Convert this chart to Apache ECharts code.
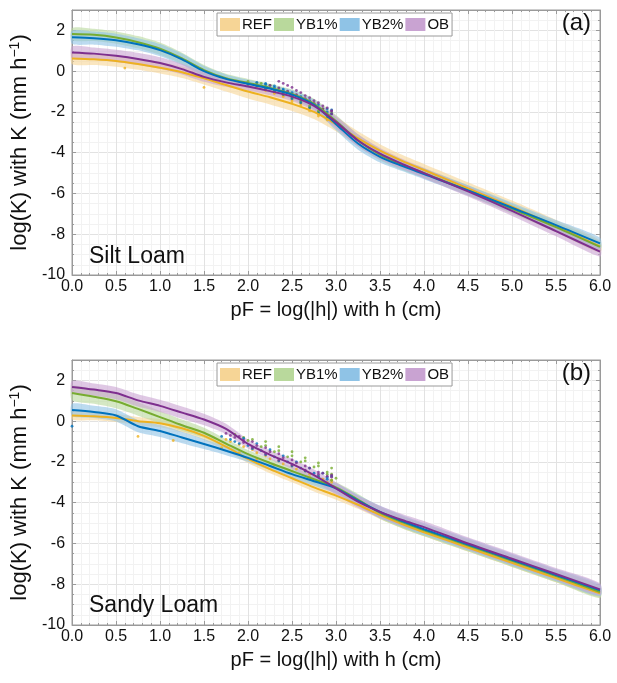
<!DOCTYPE html>
<html>
<head>
<meta charset="utf-8">
<script src="https://cdn.jsdelivr.net/npm/echarts@6/dist/echarts.min.js"></script>
<style>
  html, body { margin: 0; padding: 0; background: #fff; }
  #chart { width: 617px; height: 683px; }
</style>
</head>
<body>
<div id="chart"></div>
<script>
// pF grid shared by every curve
var pF = [0, 0.25, 0.5, 0.75, 1, 1.25, 1.5, 1.75, 2, 2.25, 2.5, 2.75, 3, 3.25, 3.5, 3.75, 4, 4.5, 5, 5.5, 6];
var names = ['REF', 'YB1%', 'YB2%', 'OB'];
var lineColors = ['#EDB120', '#77AC30', '#0072BD', '#7E2F8E'];
var bandColors = ['#f6d596', '#b9d99c', '#8fc3e6', '#c9a3d2'];

// (a) Silt Loam - mean log(K)
var siltREF = [0.62, 0.58, 0.5, 0.35, 0.17, -0.05, -0.35, -0.68, -1.0, -1.28, -1.6, -2.0, -2.6, -3.3, -3.9, -4.4, -4.85, -5.75, -6.65, -7.6, -8.6];
var siltYB1 = [1.82, 1.78, 1.65, 1.42, 1.1, 0.62, 0.05, -0.35, -0.58, -0.82, -1.12, -1.6, -2.45, -3.4, -4.1, -4.6, -5.0, -5.85, -6.75, -7.65, -8.62];
var siltYB2 = [1.66, 1.62, 1.52, 1.32, 1.03, 0.58, 0.0, -0.38, -0.62, -0.85, -1.15, -1.65, -2.6, -3.55, -4.2, -4.65, -5.05, -5.85, -6.7, -7.55, -8.45];
var siltOB  = [0.92, 0.86, 0.75, 0.6, 0.4, 0.1, -0.28, -0.55, -0.75, -0.98, -1.25, -1.7, -2.5, -3.4, -4.05, -4.55, -5.0, -5.9, -6.85, -7.85, -8.85];
// (a) half widths of the uncertainty bands
var siltREFw = [0.28, 0.28, 0.28, 0.28, 0.28, 0.28, 0.3, 0.32, 0.34, 0.35, 0.35, 0.35, 0.35, 0.35, 0.32, 0.3, 0.3, 0.3, 0.3, 0.3, 0.3];
var siltYB1w = [0.3, 0.3, 0.3, 0.3, 0.3, 0.28, 0.25, 0.22, 0.2, 0.2, 0.22, 0.25, 0.3, 0.3, 0.28, 0.25, 0.25, 0.25, 0.25, 0.25, 0.25];
var siltYB2w = [0.32, 0.32, 0.32, 0.3, 0.3, 0.28, 0.25, 0.22, 0.2, 0.2, 0.22, 0.25, 0.3, 0.3, 0.28, 0.25, 0.25, 0.25, 0.25, 0.25, 0.28];
var siltOBw  = [0.3, 0.3, 0.3, 0.3, 0.28, 0.26, 0.24, 0.22, 0.2, 0.2, 0.22, 0.25, 0.3, 0.3, 0.28, 0.25, 0.25, 0.25, 0.25, 0.25, 0.25];

// (b) Sandy Loam - mean log(K)
var sandREF = [0.28, 0.24, 0.16, 0.0, -0.1, -0.35, -0.72, -1.25, -1.85, -2.35, -2.8, -3.25, -3.65, -4.1, -4.6, -5.05, -5.45, -6.2, -6.95, -7.7, -8.45];
var sandYB1 = [1.38, 1.2, 0.98, 0.6, 0.2, -0.2, -0.57, -1.1, -1.62, -2.05, -2.45, -2.85, -3.25, -3.85, -4.5, -4.95, -5.35, -6.1, -6.85, -7.6, -8.38];
var sandYB2 = [0.55, 0.45, 0.28, -0.25, -0.48, -0.8, -1.12, -1.45, -1.8, -2.2, -2.6, -2.95, -3.3, -3.9, -4.45, -4.9, -5.3, -6.05, -6.8, -7.55, -8.3];
var sandOB  = [1.68, 1.55, 1.38, 1.02, 0.75, 0.42, 0.08, -0.38, -1.12, -1.65, -2.1, -2.65, -3.3, -3.95, -4.45, -4.85, -5.2, -6.0, -6.75, -7.5, -8.25];
var sandREFw = [0.2, 0.2, 0.2, 0.2, 0.2, 0.2, 0.2, 0.2, 0.2, 0.2, 0.2, 0.2, 0.2, 0.2, 0.2, 0.2, 0.2, 0.2, 0.2, 0.2, 0.2];
var sandYB1w = [0.35, 0.35, 0.35, 0.33, 0.3, 0.28, 0.25, 0.22, 0.2, 0.2, 0.2, 0.22, 0.25, 0.28, 0.3, 0.3, 0.3, 0.3, 0.3, 0.3, 0.3];
var sandYB2w = [0.3, 0.3, 0.3, 0.3, 0.3, 0.28, 0.25, 0.22, 0.2, 0.2, 0.2, 0.22, 0.25, 0.28, 0.3, 0.3, 0.3, 0.3, 0.3, 0.3, 0.3];
var sandOBw  = [0.3, 0.3, 0.3, 0.3, 0.3, 0.3, 0.28, 0.25, 0.22, 0.22, 0.25, 0.28, 0.3, 0.3, 0.3, 0.3, 0.3, 0.3, 0.3, 0.3, 0.3];

// measured points (dotted traces), per model
var obsSilt = [
  [[0.6, 0.15], [1.5, -0.8], [2.1, -0.75], [2.2, -0.85], [2.3, -1.0], [2.4, -1.15], [2.5, -1.35], [2.6, -1.55], [2.7, -1.8], [2.8, -2.05], [2.9, -2.3],
   [2.2, -0.9], [2.3, -1.05], [2.4, -1.2], [2.5, -1.4], [2.6, -1.6], [2.7, -1.85], [2.8, -2.1], [2.9, -2.35], [2.95, -2.45],
   [2.0, -0.7], [2.1, -0.8], [2.2, -0.95], [2.3, -1.1], [2.4, -1.25], [2.5, -1.5], [2.6, -1.7], [2.7, -1.95], [2.8, -2.2], [2.9, -2.4]],
  [[2.0, -0.5], [2.1, -0.6], [2.2, -0.75], [2.3, -0.9], [2.4, -1.05], [2.5, -1.25], [2.6, -1.45], [2.7, -1.7], [2.8, -1.95], [2.9, -2.2],
   [2.1, -0.7], [2.2, -0.8], [2.3, -0.95], [2.4, -1.1], [2.5, -1.3], [2.6, -1.5], [2.7, -1.75], [2.8, -2.0], [2.9, -2.25], [2.95, -2.3],
   [2.15, -0.6], [2.25, -0.7], [2.35, -0.85], [2.45, -1.0], [2.55, -1.2], [2.65, -1.4], [2.75, -1.6], [2.85, -1.85], [2.95, -2.05]],
  [[2.1, -0.55], [2.2, -0.65], [2.3, -0.8], [2.4, -0.95], [2.5, -1.15], [2.6, -1.35], [2.7, -1.55], [2.8, -1.8], [2.9, -2.0], [2.95, -2.1],
   [2.2, -0.6], [2.3, -0.72], [2.4, -0.88], [2.5, -1.05], [2.6, -1.25], [2.7, -1.45], [2.8, -1.65], [2.9, -1.85], [2.95, -1.9],
   [2.0, -0.65], [2.1, -0.72], [2.2, -0.85], [2.3, -1.0], [2.4, -1.15], [2.5, -1.35], [2.6, -1.55], [2.7, -1.8], [2.8, -2.05], [2.9, -2.3]],
  [[2.35, -0.5], [2.45, -0.7], [2.55, -0.95], [2.65, -1.2], [2.75, -1.45], [2.85, -1.7], [2.95, -1.95],
   [2.25, -0.7], [2.35, -0.82], [2.45, -0.98], [2.55, -1.15], [2.65, -1.35], [2.75, -1.6], [2.85, -1.85], [2.95, -2.1],
   [2.4, -0.6], [2.5, -0.8], [2.6, -1.05], [2.7, -1.3], [2.8, -1.55], [2.9, -1.8], [2.95, -1.95]]
];
var obsSand = [
  [[0.75, -0.75], [1.15, -0.95], [1.7, -1.3], [1.9, -1.55], [2.1, -1.85], [2.3, -2.15], [2.5, -2.45], [2.7, -2.75], [2.9, -3.0],
   [1.8, -1.0], [1.95, -1.25], [2.1, -1.55], [2.25, -1.85], [2.4, -2.1], [2.55, -2.35], [2.7, -2.6], [2.85, -2.85], [2.95, -3.0],
   [1.75, -0.9], [1.9, -1.15], [2.05, -1.4], [2.2, -1.7], [2.35, -1.95], [2.5, -2.2], [2.65, -2.45], [2.8, -2.7], [2.95, -2.9]],
  [[1.95, -0.8], [2.05, -0.9], [2.2, -1.2], [2.35, -1.45], [2.5, -1.7], [2.65, -1.95], [2.8, -2.2], [2.9, -2.6], [2.95, -2.9], [3.0, -2.8],
   [1.85, -0.65], [2.0, -0.95], [2.15, -1.25], [2.3, -1.5], [2.45, -1.75], [2.6, -2.0], [2.75, -2.25], [2.9, -2.5], [2.95, -2.6],
   [2.2, -1.0], [2.35, -1.25], [2.5, -1.5], [2.65, -1.8], [2.8, -2.05], [2.95, -2.3]],
  [[0.0, -0.25], [1.8, -0.9], [1.9, -1.1], [2.05, -1.35], [2.2, -1.65], [2.35, -1.95], [2.5, -2.2], [2.65, -2.45], [2.8, -2.7], [2.9, -2.85],
   [1.7, -0.75], [1.85, -1.0], [2.0, -1.2], [2.15, -1.45], [2.3, -1.75], [2.45, -2.0], [2.6, -2.3], [2.75, -2.55], [2.9, -2.75],
   [1.95, -0.85], [2.1, -1.1], [2.25, -1.4], [2.4, -1.7], [2.55, -2.0], [2.7, -2.3], [2.85, -2.55], [2.95, -2.7]],
  [[1.75, -0.6], [1.85, -0.8], [1.95, -1.05], [2.05, -1.3], [2.2, -1.6], [2.35, -1.9], [2.5, -2.15], [2.65, -2.4], [2.8, -2.6], [2.9, -2.7],
   [1.9, -0.75], [2.05, -1.0], [2.2, -1.3], [2.35, -1.6], [2.5, -1.9], [2.65, -2.2], [2.8, -2.5], [2.95, -2.75],
   [1.8, -0.7], [1.95, -0.95], [2.1, -1.2], [2.25, -1.5], [2.4, -1.8], [2.55, -2.05], [2.7, -2.3], [2.85, -2.55], [2.95, -2.65]]
];

var FONT = 'Liberation Sans';

function pairs(ys) {
  var out = [];
  for (var i = 0; i < pF.length; i++) out.push([pF[i], ys[i]]);
  return out;
}

// uncertainty band as one smoothed polygon through the axis scales
function bandSeries(axisIdx, center, half, k) {
  var rows = [];
  for (var i = 0; i < pF.length; i++) rows.push([pF[i], center[i] - half[i], center[i] + half[i]]);
  return {
    type: 'custom', name: names[k], xAxisIndex: axisIdx, yAxisIndex: axisIdx,
    data: rows, encode: { x: 0, y: [1, 2] }, silent: true, z: 1,
    renderItem: function (params, api) {
      if (params.dataIndex !== 0) return null;
      var upper = [], lower = [];
      for (var j = 0; j < rows.length; j++) {
        upper.push(api.coord([rows[j][0], rows[j][2]]));
        lower.push(api.coord([rows[j][0], rows[j][1]]));
      }
      return {
        type: 'polygon',
        shape: { points: upper.concat(lower.reverse()), smooth: 0.25 },
        style: { fill: bandColors[k], opacity: 0.6 }
      };
    }
  };
}

function panelSeries(axisIdx, centers, halves, obs) {
  var bands = [], lines = [], dots = [];
  for (var k = 0; k < names.length; k++) {
    bands.push(bandSeries(axisIdx, centers[k], halves[k], k));
    dots.push({
      name: names[k], type: 'scatter', xAxisIndex: axisIdx, yAxisIndex: axisIdx,
      data: obs[k], symbolSize: 2.8, itemStyle: { color: lineColors[k], opacity: 0.8 }, z: 2
    });
    lines.push({
      name: names[k], type: 'line', xAxisIndex: axisIdx, yAxisIndex: axisIdx,
      data: pairs(centers[k]), smooth: 0.3, symbol: 'none',
      lineStyle: { color: lineColors[k], width: 2 }, z: 3
    });
  }
  return bands.concat(dots, lines);
}

function xAxes(gridIdx) {
  var base = {
    type: 'value', gridIndex: gridIdx, min: 0, max: 6, interval: 0.5,
    axisLine: { show: true, onZero: false, lineStyle: { color: '#9a9a9a' } },
    axisTick: { show: true, inside: true, length: 4, lineStyle: { color: '#9a9a9a' } },
    minorTick: { show: true, splitNumber: 5, length: 2, lineStyle: { color: '#9a9a9a' } },
    splitLine: { show: true, lineStyle: { color: '#e2e2e2' } },
    minorSplitLine: { show: true, lineStyle: { color: '#f2f2f2' } }
  };
  var bottom = Object.assign({}, base, {
    position: 'bottom',
    axisLabel: { color: '#111', fontSize: 16, fontFamily: FONT, margin: 4,
      formatter: function (v) { return v.toFixed(1); } },
    name: 'pF = log(|h|) with h (cm)', nameLocation: 'middle', nameGap: 25,
    nameTextStyle: { color: '#111', fontSize: 20, fontFamily: FONT, verticalAlign: 'top' }
  });
  var top = Object.assign({}, base, {
    position: 'top', axisLabel: { show: false },
    splitLine: { show: false }, minorSplitLine: { show: false }
  });
  return [bottom, top];
}

function yAxes(gridIdx) {
  var base = {
    type: 'value', gridIndex: gridIdx, min: -10, max: 3, interval: 2,
    axisLine: { show: true, onZero: false, lineStyle: { color: '#9a9a9a' } },
    axisTick: { show: true, inside: true, length: 4, lineStyle: { color: '#9a9a9a' } },
    minorTick: { show: true, splitNumber: 4, length: 2, lineStyle: { color: '#9a9a9a' } },
    splitLine: { show: true, lineStyle: { color: '#e2e2e2' } },
    minorSplitLine: { show: true, lineStyle: { color: '#f2f2f2' } }
  };
  var left = Object.assign({}, base, {
    position: 'left',
    axisLabel: { color: '#111', fontSize: 16, fontFamily: FONT, margin: 7, showMaxLabel: false },
    name: 'log(K) with K (mm h{sup|\u22121})', nameLocation: 'middle', nameGap: 25,
    nameTextStyle: { color: '#111', fontSize: 22, fontFamily: FONT,
      rich: { sup: { fontSize: 14, fontFamily: FONT, color: '#111', verticalAlign: 'top', padding: [0, 0, 10, 0] } } }
  });
  var right = Object.assign({}, base, {
    position: 'right', axisLabel: { show: false },
    splitLine: { show: false }, minorSplitLine: { show: false }
  });
  return [left, right];
}

function legendFor(top) {
  return {
    top: top, left: 217, orient: 'horizontal', selectedMode: false,
    icon: 'rect', itemWidth: 20, itemHeight: 13, itemGap: 2,
    padding: [4, 3, 4, 3], borderColor: '#9a9a9a', borderWidth: 1,
    backgroundColor: '#fff', z: 20,
    textStyle: { color: '#111', fontSize: 15, fontFamily: FONT, padding: [0, 0, 0, -3] },
    data: names.map(function (n, k) {
      return { name: n, itemStyle: { color: bandColors[k], opacity: 1, borderWidth: 0 } };
    })
  };
}

var chart = echarts.init(document.getElementById('chart'), null, { renderer: 'canvas' });

var series = panelSeries(0, [siltREF, siltYB1, siltYB2, siltOB], [siltREFw, siltYB1w, siltYB2w, siltOBw], obsSilt)
  .concat(panelSeries(2, [sandREF, sandYB1, sandYB2, sandOB], [sandREFw, sandYB1w, sandYB2w, sandOBw], obsSand));

chart.setOption({
  backgroundColor: '#fff',
  animation: false,
  grid: [
    { left: 71, top: 10, width: 529, height: 265, show: true, borderColor: '#9a9a9a', borderWidth: 1 },
    { left: 71, top: 360, width: 529, height: 265, show: true, borderColor: '#9a9a9a', borderWidth: 1 }
  ],
  xAxis: xAxes(0).concat(xAxes(1)),
  yAxis: yAxes(0).concat(yAxes(1)),
  legend: [legendFor(13), legendFor(363)],
  graphic: [
    { type: 'text', right: 26, top: 11, z: 50, style: { text: '(a)', fontSize: 24, fontFamily: FONT, fill: '#111' } },
    { type: 'text', left: 89, top: 245, z: 50, style: { text: 'Silt Loam', fontSize: 23, fontFamily: FONT, fill: '#111' } },
    { type: 'text', right: 26, top: 361, z: 50, style: { text: '(b)', fontSize: 24, fontFamily: FONT, fill: '#111' } },
    { type: 'text', left: 89, top: 594, z: 50, style: { text: 'Sandy Loam', fontSize: 23, fontFamily: FONT, fill: '#111' } }
  ],
  series: series
});
</script>
</body>
</html>
